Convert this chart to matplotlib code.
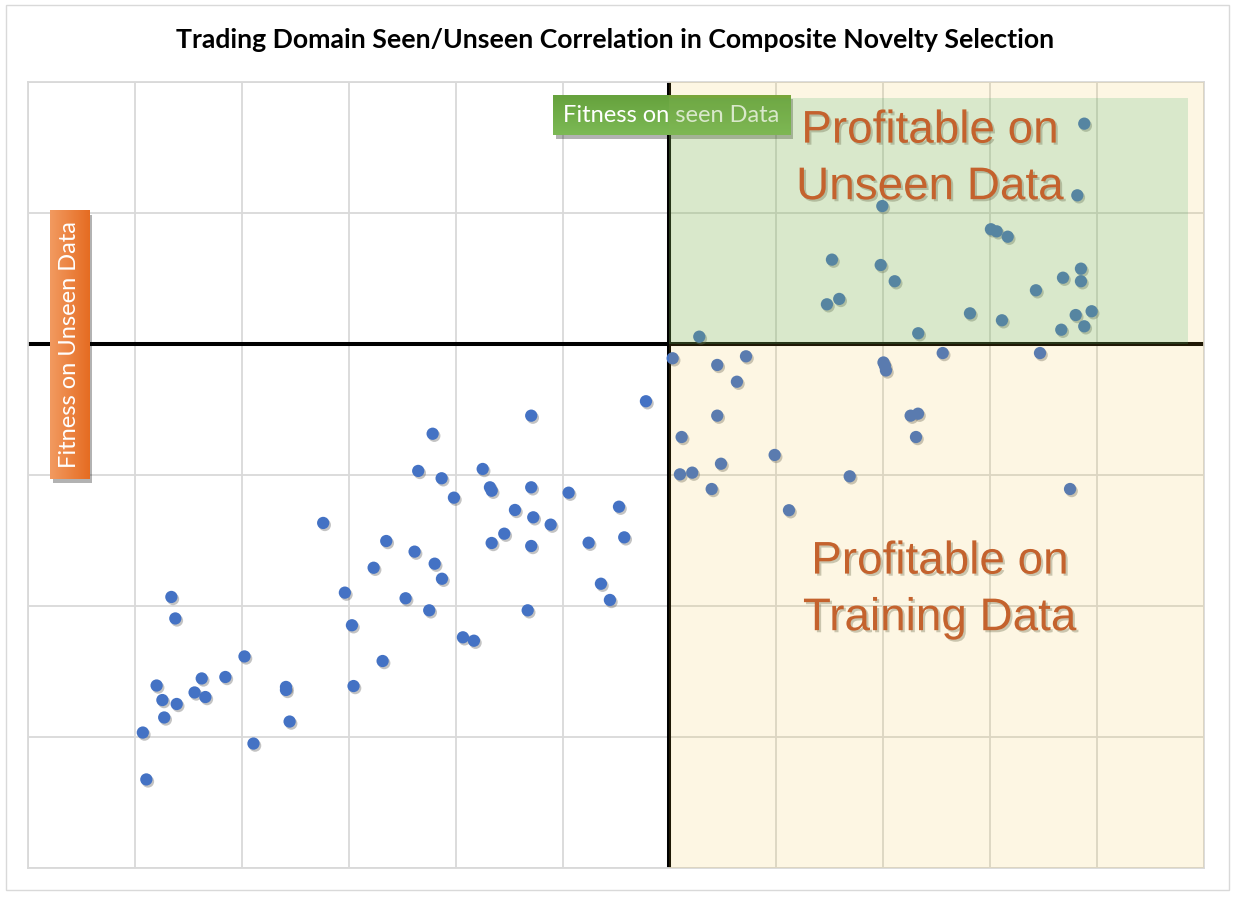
import matplotlib
matplotlib.use('Agg')
import matplotlib.pyplot as plt
import matplotlib.patheffects as pe
from matplotlib.patches import Rectangle
from matplotlib.colors import LinearSegmentedColormap
import numpy as np

# fitness on seen (training) data vs fitness on unseen data
seenFitness = [
    -0.0220, -0.1293, -0.2215, -0.2350, -0.2131, -0.1747, -0.1679, -0.1663, -0.1293, -0.0943,
    -0.2016, -0.1445, -0.1274, -0.1111, -0.0472, -0.3239, -0.1545, -0.1663, -0.1293, -0.0756,
    -0.0423, -0.2649, -0.2384, -0.2196, -0.2128, -0.2767, -0.3036, -0.2468, -0.2247, -0.1326,
    -0.0641, -0.0557, -0.2970, -0.1932, -0.1829, -0.2683, -0.4659, -0.4622, -0.3975, -0.4797,
    -0.4375, -0.4154, -0.3587, -0.3587, -0.2955, -0.4743, -0.4609, -0.4442, -0.4341, -0.4726,
    -0.3553, -0.4926, -0.3891, -0.4893,
    0.3880, 0.3815, 0.1991, 0.3007, 0.3061, 0.3164, 0.1520, 0.1976, 0.2107, 0.3849,
    0.3681, 0.3849, 0.3428, 0.1588, 0.1473, 0.2811, 0.3110, 0.3800, 0.3949, 0.3880,
    0.3665, 0.2327, 0.0279, 0.0030, 0.0447, 0.0716, 0.0631, 0.2002, 0.2016, 0.2025,
    0.2556, 0.3466, 0.0447, 0.2256, 0.2325, 0.2306, 0.0114, 0.0984, 0.0482, 0.0098,
    0.0213, 0.1686, 0.0395, 0.3747, 0.1118,
]
unseenFitness = [
    -0.0437, -0.0547, -0.0685, -0.0969, -0.1025, -0.0954, -0.1094, -0.1120, -0.1094, -0.1135,
    -0.1173, -0.1267, -0.1323, -0.1379, -0.1242, -0.1366, -0.1448, -0.1519, -0.1542, -0.1517,
    -0.1476, -0.1504, -0.1585, -0.1677, -0.1792, -0.1708, -0.1898, -0.1941, -0.2033, -0.2033,
    -0.1830, -0.1954, -0.2147, -0.2239, -0.2265, -0.2420, -0.1931, -0.2095, -0.2385, -0.2607,
    -0.2553, -0.2542, -0.2618, -0.2641, -0.2611, -0.2718, -0.2748, -0.2660, -0.2695, -0.2851,
    -0.2882, -0.2966, -0.3050, -0.3324,
    0.1682, 0.1135, 0.1053, 0.0876, 0.0860, 0.0819, 0.0644, 0.0603, 0.0479, 0.0575,
    0.0506, 0.0479, 0.0410, 0.0344, 0.0303, 0.0234, 0.0181, 0.0221, 0.0250, 0.0135,
    0.0109, 0.0082, 0.0056, -0.0109, -0.0160, -0.0094, -0.0288, -0.0141, -0.0168, -0.0202,
    -0.0069, -0.0069, -0.0547, -0.0547, -0.0532, -0.0710, -0.0710, -0.0847, -0.0914, -0.0995,
    -0.0982, -0.1010, -0.1107, -0.1107, -0.1269,
]

chartTitle = 'Trading Domain Seen/Unseen Correlation in Composite Novelty Selection'
seenLabel = 'Fitness on seen Data'
unseenLabel = 'Fitness on Unseen Data'
upperQuadrantText = 'Profitable on\nUnseen Data'
lowerQuadrantText = 'Profitable on\nTraining Data'

fig = plt.figure(figsize=(12.35, 8.97), dpi=100)
W, H = 1235, 897

# outer chart border
fig.patches.append(Rectangle((6 / W, 1 - 890 / H), 1223 / W, 885 / H, transform=fig.transFigure,
                             fill=False, edgecolor='#D9D9D9', linewidth=1.0))

ax = fig.add_axes([28 / W, 1 - 868 / H, 1176 / W, 786 / H])
ax.set_xlim(-0.6, 0.5)
ax.set_ylim(-0.4, 0.2)
ax.set_xticks([i / 10 for i in range(-6, 6)])
ax.set_yticks([i / 10 for i in range(-4, 3)])
ax.tick_params(length=0, labelbottom=False, labelleft=False)
ax.grid(True, color='#D9D9D9', linewidth=1.3)
ax.set_axisbelow(True)
for s in ax.spines.values():
    s.set_color('#D9D9D9')
    s.set_linewidth(1.3)

ax.axhline(0, color='black', linewidth=2.9, zorder=2)
ax.axvline(0, color='black', linewidth=2.9, zorder=2)

pts = ax.scatter(seenFitness, unseenFitness, s=78, color='#4472C4', edgecolors='none', zorder=3)
pts.set_path_effects([pe.SimplePatchShadow(offset=(1.2, -1.5), shadow_rgbFace='#555555', alpha=0.35),
                      pe.Normal()])


def gradient_box(x0, y0, w, h, c0, c1, vertical):
    shadow = Rectangle((x0, y0), w, h, facecolor='#000000', edgecolor='none', zorder=3.9)
    shadow.set_path_effects([pe.SimplePatchShadow(offset=(2.5, -2.5), alpha=0.3)])
    ax.add_patch(shadow)
    cmap = LinearSegmentedColormap.from_list('g', [c0, c1])
    ramp = np.linspace(0, 1, 64)
    img = ramp.reshape(-1, 1) if vertical else ramp.reshape(1, -1)
    ax.imshow(img, cmap=cmap, extent=(x0, x0 + w, y0 + h, y0) if vertical else (x0, x0 + w, y0, y0 + h),
              aspect='auto', zorder=4, interpolation='bilinear')


# green label box (seen data axis title)
gradient_box(-0.109, 0.1595, 0.2217, 0.0298, '#7CB955', '#66A23D', vertical=True)
ax.text(0.0019, 0.1744, seenLabel, color='white', fontsize=17, family='Lato',
        ha='center', va='center', zorder=4.5)

# orange label box (unseen data axis title)
gradient_box(-0.5795, -0.1031, 0.0365, 0.2046, '#F29A60', '#E56C22', vertical=False)
ax.text(-0.5613, -0.0008, unseenLabel, color='white', fontsize=17, family='Lato',
        rotation=90, ha='center', va='center', zorder=4.5)
ax.set_xlim(-0.6, 0.5)
ax.set_ylim(-0.4, 0.2)

# quadrant shading, laid over everything beneath it
ax.add_patch(Rectangle((0, -0.4), 0.5, 0.6, facecolor=(0.95, 0.75, 0.16), alpha=0.13,
                       edgecolor='none', zorder=5))
ax.add_patch(Rectangle((0, 0), 0.485, 0.188, facecolor=(0.29, 0.69, 0.42), alpha=0.2,
                       edgecolor='none', zorder=5.1))

for xy, txt in [((0.2437, 0.1413), upperQuadrantText), ((0.253, -0.1877), lowerQuadrantText)]:
    t = ax.text(xy[0], xy[1], txt, color='#C4622D', fontsize=33, family='Liberation Sans',
                ha='center', va='center', linespacing=1.37, zorder=6)
    t.set_path_effects([pe.withSimplePatchShadow(offset=(1.5, -1.5), shadow_rgbFace='#6b6b4b', alpha=0.35)])

fig.text(615.5 / W, 1 - 48 / H, chartTitle, fontsize=19.2, fontweight='bold', family='Lato',
         ha='center', va='baseline')

fig.savefig('out.png', dpi=100)
